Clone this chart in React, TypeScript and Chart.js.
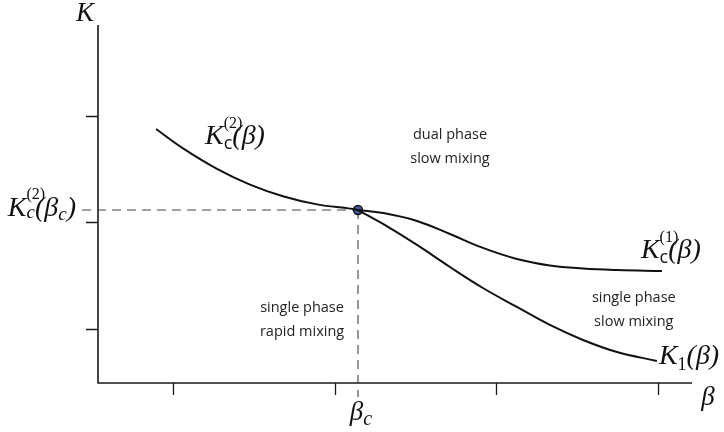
import { useEffect, useRef } from "react";
import { Chart, registerables } from "chart.js";

Chart.register(...registerables);

// ---- data (abstract units) ----
const betaTicks = [1, 2, 3, 4];
const kTicks = [1, 2, 3];
const betaRange = [0.536, 4.21];
const kRange = [0.493, 3.854];
const criticalBeta = [2.144];
const criticalK = [2.117];

const kc2Beta = [0.895, 1.062, 1.272, 1.476, 1.68, 1.891, 2.095, 2.144];
const kc2Values = [2.878, 2.696, 2.504, 2.356, 2.247, 2.17, 2.13, 2.117];

const kc1Beta = [2.144, 2.299, 2.509, 2.713, 2.917, 3.127, 3.331, 3.536, 3.746, 4.024];
const kc1Values = [2.117, 2.089, 2.014, 1.892, 1.761, 1.657, 1.596, 1.568, 1.554, 1.545];

const k1Beta = [2.144, 2.299, 2.509, 2.713, 2.917, 3.127, 3.331, 3.536, 3.746, 3.993];
const k1Values = [2.117, 1.986, 1.789, 1.582, 1.385, 1.207, 1.038, 0.897, 0.784, 0.7];

const regionTexts = [
  ["dual phase", "slow mixing"],
  ["single phase", "rapid mixing"],
  ["single phase", "slow mixing"],
];
// anchor of each region text in data units
const regionAnchors = [
  [2.713, 2.822],
  [1.798, 1.2],
  [3.85, 1.29],
];

type Seg = { t: string; f: string; dy?: number; stay?: boolean };

const serifI = (s: number) => `italic ${s}px "Liberation Serif"`;
const serif = (s: number) => `${s}px "Liberation Serif"`;
const sansF = (s: number) => `${s}px "Open Sans"`;

function segsWidth(ctx: CanvasRenderingContext2D, segs: Seg[]) {
  let w = 0;
  for (const s of segs) {
    ctx.font = s.f;
    if (!s.stay) w += ctx.measureText(s.t).width;
  }
  return w;
}

function drawSegs(
  ctx: CanvasRenderingContext2D,
  segs: Seg[],
  x: number,
  y: number,
  align: "left" | "right" | "center"
) {
  const w = segsWidth(ctx, segs);
  let cx = align === "left" ? x : align === "right" ? x - w : x - w / 2;
  ctx.textAlign = "left";
  ctx.textBaseline = "alphabetic";
  for (const s of segs) {
    ctx.font = s.f;
    ctx.fillText(s.t, cx, y + (s.dy || 0));
    if (!s.stay) cx += ctx.measureText(s.t).width;
  }
}

const pts = (xs: number[], ys: number[]) => xs.map((x, i) => ({ x, y: ys[i] }));

const diagramPlugin = {
  id: "diagram",
  beforeDatasetsDraw(chart: any) {
    const { ctx, chartArea: a, scales } = chart;
    const xs = scales.x;
    const ys = scales.y;
    ctx.save();
    // axes
    ctx.strokeStyle = "#1a1a1a";
    ctx.lineWidth = 1.6;
    ctx.beginPath();
    ctx.moveTo(a.left, a.top);
    ctx.lineTo(a.left, a.bottom);
    ctx.lineTo(a.right, a.bottom);
    ctx.stroke();
    ctx.lineWidth = 1.3;
    ctx.beginPath();
    for (const t of betaTicks) {
      const px = Math.round(xs.getPixelForValue(t)) + 0.5;
      ctx.moveTo(px, a.bottom);
      ctx.lineTo(px, a.bottom + 12);
    }
    for (const t of kTicks) {
      const py = Math.round(ys.getPixelForValue(t)) + 0.5;
      ctx.moveTo(a.left - 12, py);
      ctx.lineTo(a.left, py);
    }
    ctx.stroke();
    // dashed guides
    const bx = xs.getPixelForValue(criticalBeta[0]);
    const ky = ys.getPixelForValue(criticalK[0]);
    ctx.strokeStyle = "#444";
    ctx.lineWidth = 1.1;
    ctx.setLineDash([9, 6]);
    ctx.beginPath();
    ctx.moveTo(a.left - 16, ky);
    ctx.lineTo(bx, ky);
    ctx.moveTo(bx, ky);
    ctx.lineTo(bx, a.bottom + 14);
    ctx.stroke();
    ctx.setLineDash([]);
    ctx.restore();
  },
  afterDatasetsDraw(chart: any) {
    const { ctx, chartArea: a, scales } = chart;
    const xs = scales.x;
    const ys = scales.y;
    ctx.save();
    ctx.fillStyle = "#111";
    const bx = xs.getPixelForValue(criticalBeta[0]);
    const ky = ys.getPixelForValue(criticalK[0]);

    // axis titles
    drawSegs(ctx, [{ t: "K", f: serifI(27) }], a.left - 13, a.top - 4, "center");
    drawSegs(ctx, [{ t: "β", f: serifI(27) }], a.right + 16, a.bottom + 22, "center");
    drawSegs(
      ctx,
      [
        { t: "β", f: serifI(27) },
        { t: "c", f: serifI(20), dy: 5 },
      ],
      bx + 3,
      a.bottom + 37,
      "center"
    );

    // K_c^(2)(β_c) on the left
    drawSegs(
      ctx,
      [
        { t: "K", f: serifI(28) },
        { t: "(2)", f: serif(16), dy: -17, stay: true },
        { t: "c", f: serifI(19), dy: 2 },
        { t: "(", f: serifI(28) },
        { t: "β", f: serifI(28) },
        { t: "c", f: serifI(19), dy: 4 },
        { t: ")", f: serifI(28) },
      ],
      a.left - 22,
      ky + 6,
      "right"
    );

    // curve labels
    const kc2Label: Seg[] = [
      { t: "K", f: serifI(28) },
      { t: "(2)", f: serif(16), dy: -16, stay: true },
      { t: "c", f: sansF(18), dy: 5 },
      { t: "(", f: serifI(28) },
      { t: "β", f: serifI(28) },
      { t: ")", f: serifI(28) },
    ];
    drawSegs(ctx, kc2Label, xs.getPixelForValue(kc2Beta[0]) + 49, ys.getPixelForValue(kc2Values[0]) + 15, "left");

    const kc1Label: Seg[] = [
      { t: "K", f: serifI(28) },
      { t: "(1)", f: serif(16), dy: -16, stay: true },
      { t: "c", f: sansF(18), dy: 5 },
      { t: "(", f: serifI(28) },
      { t: "β", f: serifI(28) },
      { t: ")", f: serifI(28) },
    ];
    const kc1End = kc1Beta.length - 1;
    drawSegs(ctx, kc1Label, xs.getPixelForValue(kc1Beta[kc1End]) - 21, ys.getPixelForValue(kc1Values[kc1End]) - 13, "left");

    const k1Label: Seg[] = [
      { t: "K", f: serifI(28) },
      { t: "1", f: serif(18), dy: 6 },
      { t: "(", f: serifI(28) },
      { t: "β", f: serifI(28) },
      { t: ")", f: serifI(28) },
    ];
    const k1End = k1Beta.length - 1;
    drawSegs(ctx, k1Label, xs.getPixelForValue(k1Beta[k1End]) + 2, ys.getPixelForValue(k1Values[k1End]) + 3, "left");

    // region texts
    ctx.font = sansF(14.5);
    ctx.textAlign = "center";
    ctx.textBaseline = "middle";
    ctx.fillStyle = "#222";
    regionTexts.forEach((lines, i) => {
      const cx = xs.getPixelForValue(regionAnchors[i][0]);
      const cy = ys.getPixelForValue(regionAnchors[i][1]);
      lines.forEach((ln, j) => ctx.fillText(ln, cx, cy + j * 24));
    });
    ctx.restore();
  },
};

export default function App() {
  const ref = useRef<HTMLCanvasElement>(null);
  useEffect(() => {
    const curveStyle = {
      showLine: true,
      borderColor: "#111",
      borderWidth: 2,
      pointRadius: 0,
      fill: false,
      tension: 0.4,
      cubicInterpolationMode: "default" as const,
    };
    const chart = new Chart(ref.current!, {
      type: "line",
      data: {
        datasets: [
          { label: "Kc2", data: pts(kc2Beta, kc2Values), ...curveStyle },
          { label: "Kc1", data: pts(kc1Beta, kc1Values), ...curveStyle },
          { label: "K1", data: pts(k1Beta, k1Values), ...curveStyle },
          {
            label: "critical",
            data: pts(criticalBeta, criticalK),
            showLine: false,
            pointRadius: 4.5,
            pointBackgroundColor: "#3e5c9e",
            pointBorderColor: "#111",
            pointBorderWidth: 1.4,
          },
        ],
      },
      options: {
        responsive: false,
        animation: false,
        layout: { padding: { left: 98, right: 32, top: 25, bottom: 49 } },
        scales: {
          x: { type: "linear", min: betaRange[0], max: betaRange[1], display: false },
          y: { type: "linear", min: kRange[0], max: kRange[1], display: false },
        },
        plugins: { legend: { display: false }, tooltip: { enabled: false } },
      },
      plugins: [diagramPlugin],
    });
    return () => chart.destroy();
  }, []);
  return (
    <div style={{ position: "absolute", left: 0, top: 0, width: 724, height: 432, background: "#fff" }}>
      <canvas ref={ref} width={724} height={432} style={{ display: "block" }} />
    </div>
  );
}
